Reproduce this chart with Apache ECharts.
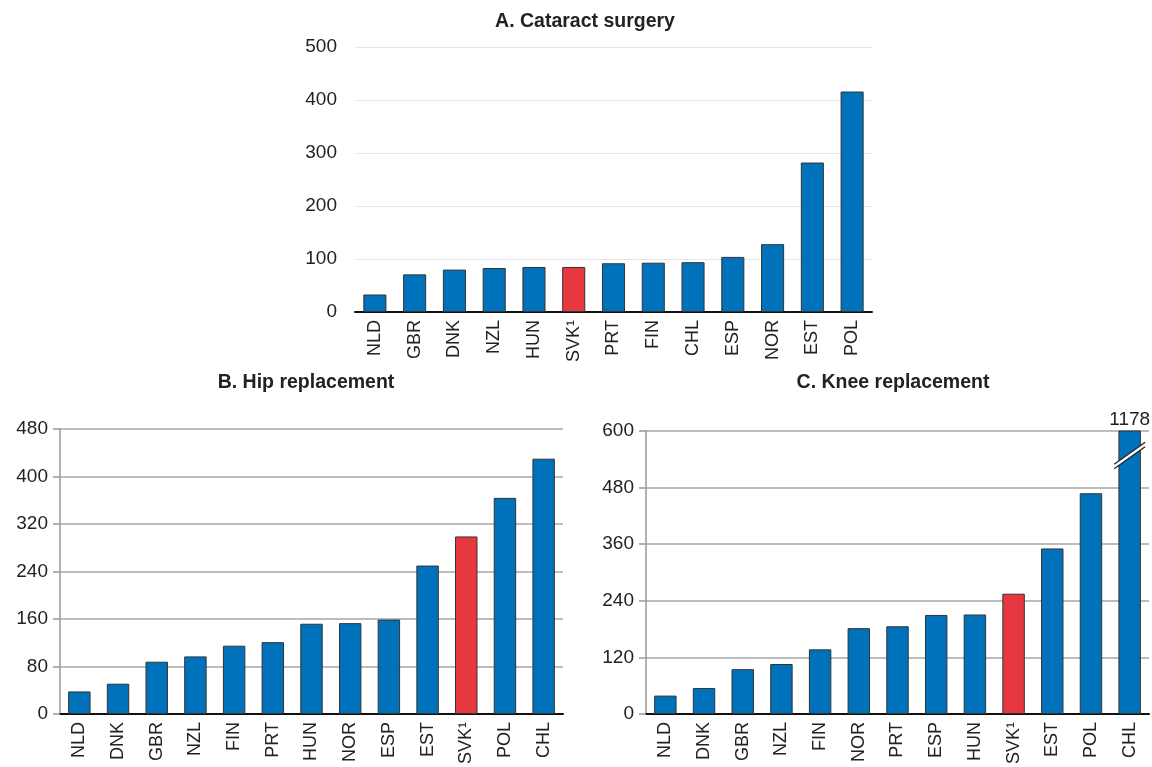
<!DOCTYPE html>
<html>
<head>
<meta charset="utf-8">
<script src="https://cdn.jsdelivr.net/npm/echarts@6/dist/echarts.min.js"></script>
<style>
  html, body { margin: 0; padding: 0; background: #fff; }
  #chart { width: 1152px; height: 767px; }
</style>
</head>
<body>
<div id="chart"></div>
<script>
// Panel A: cataract surgery
const cataractCountries = ['NLD', 'GBR', 'DNK', 'NZL', 'HUN', 'SVK¹', 'PRT', 'FIN', 'CHL', 'ESP', 'NOR', 'EST', 'POL'];
const cataractValues = [33, 71, 80, 83, 85, 85, 92, 93, 94, 104, 128, 282, 416];

// Panel B: hip replacement
const hipCountries = ['NLD', 'DNK', 'GBR', 'NZL', 'FIN', 'PRT', 'HUN', 'NOR', 'ESP', 'EST', 'SVK¹', 'POL', 'CHL'];
const hipValues = [38, 51, 88, 97, 115, 121, 152, 153, 159, 250, 299, 364, 430];

// Panel C: knee replacement (CHL runs off the scale)
const kneeCountries = ['NLD', 'DNK', 'GBR', 'NZL', 'FIN', 'NOR', 'PRT', 'ESP', 'HUN', 'SVK¹', 'EST', 'POL', 'CHL'];
const kneeValues = [39, 55, 95, 106, 137, 182, 186, 210, 211, 255, 351, 468, 1178];

const cataractTicks = { min: 0, max: 500, interval: 100 };
const hipTicks = { min: 0, max: 480, interval: 80 };
const kneeTicks = { min: 0, max: 600, interval: 120 };

const BLUE = '#0072BB';
const RED = '#E8383F';
const FONT = "'Liberation Sans Narrow', 'Arial Narrow', 'Liberation Sans', sans-serif";
const TEXT = '#222';

function barData(cats, vals) {
  return vals.map((v, i) => ({
    value: v,
    itemStyle: { color: cats[i].startsWith('SVK') ? RED : BLUE }
  }));
}

function xAxis(gridIndex, cats) {
  return {
    type: 'category', gridIndex, data: cats,
    axisLine: { show: true, lineStyle: { color: '#111', width: 2 } },
    axisTick: { show: false },
    axisLabel: { rotate: 90, color: TEXT, fontFamily: FONT, fontSize: 18, margin: 8, interval: 0 }
  };
}

function yAxis(gridIndex, ticks, light) {
  return {
    type: 'value', gridIndex, min: ticks.min, max: ticks.max, interval: ticks.interval,
    axisLine: { show: !light, lineStyle: { color: '#999', width: 1.5 } },
    axisTick: { show: !light, length: 7, lineStyle: { color: '#999', width: 1.5 } },
    splitLine: { show: true, lineStyle: { color: light ? '#e6e6e6' : '#a6a6a6', width: light ? 1 : 1.5 } },
    axisLabel: { color: TEXT, fontFamily: FONT, fontSize: 19, margin: light ? 18 : 12 }
  };
}

function barSeries(idx, cats, vals) {
  return {
    type: 'bar', xAxisIndex: idx, yAxisIndex: idx,
    data: barData(cats, vals),
    barCategoryGap: '42%',
    clip: true,
    itemStyle: { borderColor: '#333', borderWidth: 1 }
  };
}

function panelTitle(text, centerX, top) {
  return {
    text, left: centerX, top, textAlign: 'center', padding: 0,
    textStyle: { fontFamily: FONT, fontSize: 19.5, fontWeight: 'bold', color: TEXT }
  };
}

const kneeCap = kneeTicks.max;
const kneeBreakAt = 548;

const option = {
  animation: false,
  backgroundColor: '#fff',
  title: [
    panelTitle('A. Cataract surgery', 585, 12),
    panelTitle('B. Hip replacement', 306, 373),
    panelTitle('C. Knee replacement', 893, 373)
  ],
  grid: [
    { left: 355, top: 47, width: 517, height: 265 },
    { left: 60, top: 429, width: 503, height: 287 },
    { left: 646, top: 431, width: 503, height: 285 }
  ],
  xAxis: [xAxis(0, cataractCountries), xAxis(1, hipCountries), xAxis(2, kneeCountries)],
  yAxis: [yAxis(0, cataractTicks, true), yAxis(1, hipTicks, false), yAxis(2, kneeTicks, false)],
  series: [
    barSeries(0, cataractCountries, cataractValues),
    barSeries(1, hipCountries, hipValues),
    Object.assign(barSeries(2, kneeCountries, kneeValues), {
      markPoint: {
        symbol: 'circle', symbolSize: 0,
        label: {
          show: true, position: 'top', distance: 2,
          color: TEXT, fontFamily: FONT, fontSize: 19,
          formatter: () => String(kneeValues[kneeValues.length - 1])
        },
        data: [{ coord: [kneeCountries[kneeCountries.length - 1], kneeCap] }]
      }
    }),
    // axis-break marker drawn across the truncated bar
    {
      type: 'custom', xAxisIndex: 2, yAxisIndex: 2, silent: true, z: 10,
      data: kneeValues.map((v, i) => [i, v]).filter(d => d[1] > kneeCap),
      renderItem: function (params, api) {
        const c = api.coord([api.value(0), kneeBreakAt]);
        const halfW = api.size([1, 0])[0] * 0.4;
        const rise = 11, gap = 2.2;
        const x1 = c[0] - halfW, x2 = c[0] + halfW;
        return {
          type: 'group',
          children: [
            { type: 'polygon', shape: { points: [[x1, c[1] + rise - gap], [x2, c[1] - rise - gap], [x2, c[1] - rise + gap], [x1, c[1] + rise + gap]] },
              style: { fill: '#fff' } },
            { type: 'line', shape: { x1, y1: c[1] + rise - gap, x2, y2: c[1] - rise - gap }, style: { stroke: '#222', lineWidth: 1.3 } },
            { type: 'line', shape: { x1, y1: c[1] + rise + gap, x2, y2: c[1] - rise + gap }, style: { stroke: '#222', lineWidth: 1.3 } }
          ]
        };
      }
    }
  ]
};

const chart = echarts.init(document.getElementById('chart'), null, { renderer: 'canvas' });
chart.setOption(option);
</script>
</body>
</html>
